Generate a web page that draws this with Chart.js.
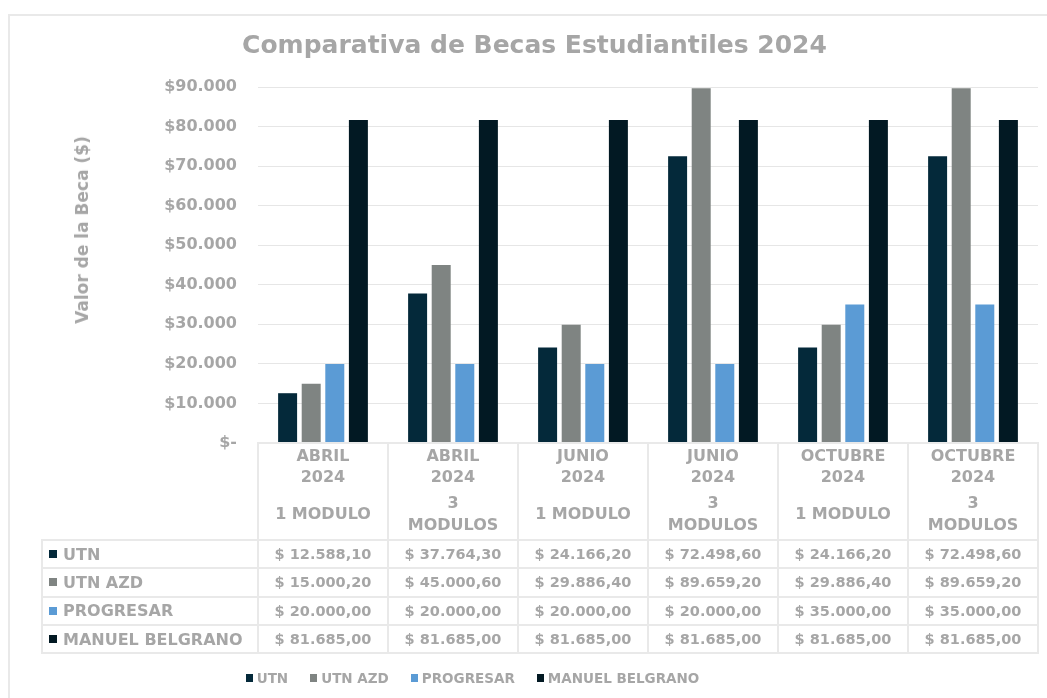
<!DOCTYPE html>
<html>
<head>
<meta charset="utf-8">
<script src="https://cdn.jsdelivr.net/npm/chart.js@4.4.1/dist/chart.umd.min.js"></script>
<style>
  html, body { margin: 0; padding: 0; background: #fff; }
  body { width: 1047px; height: 698px; position: relative; overflow: hidden; font-family: 'DejaVu Sans', sans-serif; font-weight: bold; color: #a6a6a6; }
  #frame { position: absolute; left: 8px; top: 14px; width: 1100px; height: 800px; border: 2px solid #e9e9e9; box-sizing: border-box; }
  #myChart { position: absolute; left: 0; top: 0; }
  .ytitle { position: absolute; left: 82px; top: 230px; transform: translate(-50%, -50%) rotate(-90deg); white-space: nowrap; font-size: 17px; }
  .cell { position: absolute; box-sizing: border-box; border: 2px solid #e9e9e9; display: flex; align-items: center; justify-content: center; white-space: nowrap; }
  .val { font-size: 14.5px; }
  .lab { justify-content: flex-start; padding-left: 6px; font-size: 16px; }
  .sq { display: inline-block; width: 8px; height: 8px; margin-right: 6px; }
  .head { flex-direction: column; justify-content: flex-start; font-size: 16px; text-align: center; }
  .head .top { height: 44px; line-height: 21px; padding-top: 1px; }
  .head .bot { flex: 1; display: flex; flex-direction: column; justify-content: center; line-height: 22px; }
  #legend { position: absolute; left: 0; top: 668px; width: 945px; height: 20px; display: flex; justify-content: center; align-items: center; font-size: 13.5px; }
  #legend span.item { display: flex; align-items: center; margin: 0 11px; }
  #legend .sq { width: 7px; height: 8px; margin-right: 4px; }
</style>
</head>
<body>
<div id="frame"></div>
<canvas id="myChart" width="1047" height="698"></canvas>
<div class="ytitle">Valor de la Beca ($)</div>
<div id="legend"></div>
<script>
const periods = [
  ['ABRIL', '2024'],
  ['ABRIL', '2024'],
  ['JUNIO', '2024'],
  ['JUNIO', '2024'],
  ['OCTUBRE', '2024'],
  ['OCTUBRE', '2024'],
];
const modules = [
  ['1 MODULO'],
  ['3', 'MODULOS'],
  ['1 MODULO'],
  ['3', 'MODULOS'],
  ['1 MODULO'],
  ['3', 'MODULOS'],
];

const seriesNames = ['UTN', 'UTN AZD', 'PROGRESAR', 'MANUEL BELGRANO'];
const utn = [12588.1, 37764.3, 24166.2, 72498.6, 24166.2, 72498.6];
const utnAzd = [15000.2, 45000.6, 29886.4, 89659.2, 29886.4, 89659.2];
const progresar = [20000, 20000, 20000, 20000, 35000, 35000];
const manuelBelgrano = [81685, 81685, 81685, 81685, 81685, 81685];
const colors = ['#04293a', '#7f8482', '#5b9bd5', '#021923'];

const yTicks = [0, 10000, 20000, 30000, 40000, 50000, 60000, 70000, 80000, 90000];

const thousands = (n) => n.replace(/\B(?=(\d{3})+(?!\d))/g, '.');
const money = (v) => {
  const [int, dec] = v.toFixed(2).split('.');
  return `$ ${thousands(int)},${dec}`;
};

const charts = document.getElementById('myChart');
const values = [utn, utnAzd, progresar, manuelBelgrano];

const chart = new Chart(charts, {
  type: 'bar',
  data: {
    labels: periods.map((p, i) => [...p, ...modules[i]]),
    datasets: seriesNames.map((label, i) => ({
      label,
      data: values[i],
      backgroundColor: colors[i],
      borderWidth: 0,
      categoryPercentage: 0.726,
      barPercentage: 0.805,
    })),
  },
  options: {
    responsive: false,
    animation: false,
    layout: {
      padding: { left: 31, right: 9, top: 0, bottom: 255 },
    },
    plugins: {
      legend: { display: false },
      tooltip: { enabled: false },
      title: {
        display: true,
        text: 'Comparativa de Becas Estudiantiles 2024',
        color: '#a6a6a6',
        font: { family: 'DejaVu Sans', size: 25, weight: 'bold' },
        padding: { top: 31, bottom: 26 },
      },
    },
    scales: {
      x: { display: false },
      y: {
        min: 0,
        max: 90000,
        afterBuildTicks: (scale) => {
          scale.ticks = yTicks.map((value) => ({ value }));
        },
        afterFit: (scale) => {
          scale.width = 227;
        },
        border: { display: false },
        grid: { color: '#e6e6e6', drawTicks: false },
        ticks: {
          padding: 21,
          color: '#a6a6a6',
          font: { family: 'DejaVu Sans', size: 16, weight: 'bold' },
          callback: (v) => (v === 0 ? '$-' : `$${thousands(String(v))}`),
        },
      },
    },
  },
});

// data table under the plot, lined up with the category scale
const area = chart.chartArea;
const colW = (area.right - area.left) / periods.length;
const headTop = area.bottom;
const headBottom = 540;
const rowH = 28.33;
const labelLeft = 42;

const addCell = (x, y, w, h, cls, html) => {
  const d = document.createElement('div');
  d.className = `cell ${cls}`;
  d.style.left = `${x - 1}px`;
  d.style.top = `${y - 1}px`;
  d.style.width = `${w + 2}px`;
  d.style.height = `${h + 2}px`;
  d.innerHTML = html;
  document.body.appendChild(d);
};

periods.forEach((p, i) => {
  const x = chart.scales.x.getPixelForValue(i) - colW / 2;
  addCell(
    x,
    headTop,
    colW,
    headBottom - headTop,
    'head',
    `<div class="top">${p.join('<br>')}</div><div class="bot">${modules[i].join('<br>')}</div>`,
  );
});

seriesNames.forEach((name, r) => {
  const y = headBottom + r * rowH;
  addCell(
    labelLeft,
    y,
    area.left - labelLeft,
    rowH,
    'lab',
    `<span class="sq" style="background:${colors[r]}"></span>${name}`,
  );
  values[r].forEach((v, i) => {
    const x = chart.scales.x.getPixelForValue(i) - colW / 2;
    addCell(x, y, colW, rowH, 'val', money(v));
  });
});

const legend = document.getElementById('legend');
seriesNames.forEach((name, i) => {
  legend.innerHTML += `<span class="item"><span class="sq" style="background:${colors[i]}"></span>${name}</span>`;
});
</script>
</body>
</html>
